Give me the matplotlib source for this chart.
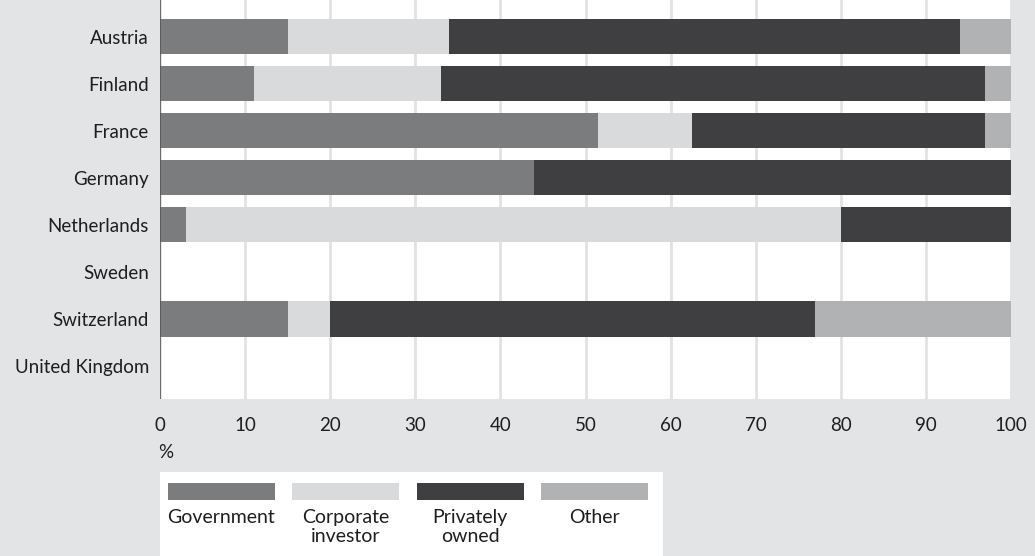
import matplotlib
matplotlib.use("Agg")
import matplotlib.pyplot as plt
from matplotlib.patches import Rectangle
import numpy as np

plt.rcParams['font.family'] = ['Lato', 'DejaVu Sans']

countries = ["Austria", "Finland", "France", "Germany", "Netherlands",
             "Sweden", "Switzerland", "United Kingdom"]
series = ["Government", "Corporate\ninvestor", "Privately\nowned", "Other"]
government = [15, 11, 51.5, 44, 3, 0, 15, 0]
corporate = [19, 22, 11, 0, 77, 0, 5, 0]
private = [60, 64, 34.5, 56, 20, 0, 57, 0]
other = [6, 3, 3, 0, 0, 0, 23, 0]
colors = ["#7b7c7e", "#d9dadc", "#3f3f42", "#b1b2b4"]
xticks = [0, 10, 20, 30, 40, 50, 60, 70, 80, 90, 100]

bg = "#e3e4e6"
W, H = 1035, 556
fig = plt.figure(figsize=(W / 100, H / 100), dpi=100, facecolor=bg)
ax = fig.add_axes([160 / W, (H - 399) / H, 851 / W, 399 / H])
ax.set_facecolor("white")

y = np.arange(len(countries))
left = np.zeros(len(countries))
for vals, c in zip([government, corporate, private, other], colors):
    vals = np.array(vals, dtype=float)
    ax.barh(y, vals, left=left, height=0.745, color=c, linewidth=0, zorder=2)
    left += vals

ax.set_xlim(0, 100)
ax.set_ylim(7 + 0.7, -0.78)
ax.set_xticks(xticks)
ax.set_xticklabels([str(t) for t in xticks], fontsize=13.5, color="#1e1e1e")
ax.set_yticks(y)
ax.set_yticklabels(countries, fontsize=13.5, color="#1e1e1e")
ax.tick_params(length=0, pad=8)
ax.tick_params(axis="x", pad=13)
ax.grid(axis="x", color="#e2e2e2", linewidth=2, zorder=1)
ax.axvline(0, color="#555555", linewidth=1.2, zorder=3)
for s in ax.spines.values():
    s.set_visible(False)

fig.text(158 / W, 1 - 452 / H, "%", fontsize=13.5, color="#1e1e1e", va="center", ha="left")

# legend box
lax = fig.add_axes([160 / W, 0, (663 - 160) / W, (H - 472) / H])
lax.set_facecolor("white")
lax.set_xlim(160, 663)
lax.set_ylim(556, 472)
lax.axis("off")
lax.add_patch(Rectangle((160, 472), 503, 84, color="white", zorder=0))
for i, (name, c) in enumerate(zip(series, colors)):
    x0 = 168 + i * 124.3
    lax.add_patch(Rectangle((x0, 483), 107, 17, color=c, linewidth=0))
    lax.text(x0 + 53.5, 509, name, ha="center", va="top", fontsize=14,
             color="#1e1e1e", linespacing=1.15)

fig.savefig("out.png", dpi=100, facecolor=bg)
